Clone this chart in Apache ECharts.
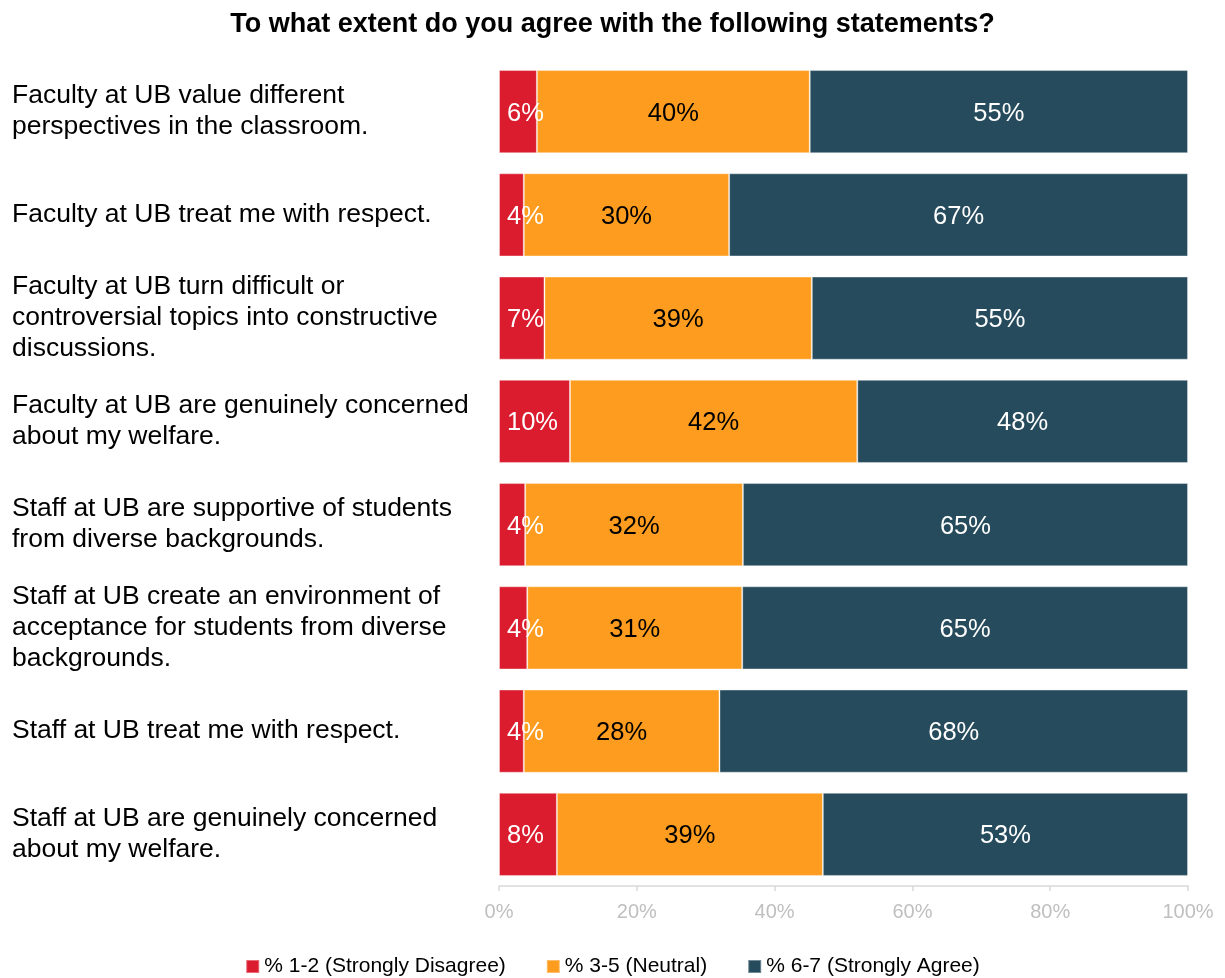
<!DOCTYPE html>
<html>
<head>
<meta charset="utf-8">
<script src="https://cdn.jsdelivr.net/npm/echarts@6/dist/echarts.min.js"></script>
<style>
  html, body { margin: 0; padding: 0; background: #fff; }
  #chart { width: 1225px; height: 978px; }
</style>
</head>
<body>
<div id="chart"></div>
<script>
// Survey statements (top to bottom)
const statements = [
  'Faculty at UB value different\nperspectives in the classroom.',
  'Faculty at UB treat me with respect.',
  'Faculty at UB turn difficult or\ncontroversial topics into constructive\ndiscussions.',
  'Faculty at UB are genuinely concerned\nabout my welfare.',
  'Staff at UB are supportive of students\nfrom diverse backgrounds.',
  'Staff at UB create an environment of\nacceptance for students from diverse\nbackgrounds.',
  'Staff at UB treat me with respect.',
  'Staff at UB are genuinely concerned\nabout my welfare.'
];

// Share of responses (%) per answer group
const disagree = [5.5, 3.6, 6.6, 10.3, 3.8, 4.1, 3.6, 8.4];
const neutral  = [39.6, 29.8, 38.8, 41.7, 31.6, 31.2, 28.4, 38.6];
const agree    = [54.9, 66.6, 54.6, 48.0, 64.6, 64.7, 68.0, 53.0];

const seriesNames = ['% 1-2 (Strongly Disagree)', '% 3-5 (Neutral)', '% 6-7 (Strongly Agree)'];
const axisTicks = [0, 20, 40, 60, 80, 100];

const FONT = "'Liberation Sans', Arial, sans-serif";
const colors = ['#DA1C2E', '#FD9C1E', '#264B5C'];
const labelColors = ['#ffffff', '#000000', '#ffffff'];

const chart = echarts.init(document.getElementById('chart'));

function barSeries(name, data, idx) {
  // the narrow first segment keeps its label pinned near the left edge
  const first = idx === 0;
  return {
    name: name,
    type: 'bar',
    stack: 'total',
    data: data,
    barCategoryGap: '19.5%',
    itemStyle: {
      color: colors[idx],
      borderColor: 'rgba(255,255,255,0.35)',
      borderWidth: 1
    },
    label: {
      show: true,
      position: first ? 'insideLeft' : 'inside',
      distance: first ? 8 : 5,
      offset: [0, 2],
      color: labelColors[idx],
      fontFamily: FONT,
      fontSize: 25.5,
      formatter: p => Math.round(p.value) + '%'
    },
    emphasis: { disabled: true }
  };
}

chart.setOption({
  animation: false,
  backgroundColor: '#ffffff',
  color: colors,
  title: {
    text: 'To what extent do you agree with the following statements?',
    left: 'center',
    top: 6,
    textStyle: { fontFamily: FONT, fontSize: 27, fontWeight: 'bold', color: '#000' }
  },
  legend: {
    top: 956,
    left: 'center',
    padding: 0,
    icon: 'rect',
    itemWidth: 13,
    itemHeight: 13,
    itemGap: 40,
    textStyle: { fontFamily: FONT, fontSize: 21, color: '#000' },
    data: seriesNames
  },
  grid: { left: 499, right: 37, top: 60, bottom: 92, containLabel: false },
  xAxis: {
    type: 'value',
    min: axisTicks[0],
    max: axisTicks[axisTicks.length - 1],
    interval: axisTicks[1] - axisTicks[0],
    axisLine: { show: true, lineStyle: { color: '#d9d9d9', width: 1.5 } },
    axisTick: { show: true, length: 5, lineStyle: { color: '#d9d9d9', width: 1.5 } },
    splitLine: { show: false },
    axisLabel: {
      formatter: '{value}%',
      color: '#bfbfbf',
      fontFamily: FONT,
      fontSize: 20,
      margin: 16
    }
  },
  yAxis: {
    type: 'category',
    inverse: true,
    data: statements,
    axisLine: { show: false },
    axisTick: { show: false },
    axisLabel: {
      align: 'left',
      margin: 487,
      padding: [6, 0, 0, 0],
      color: '#000',
      fontFamily: FONT,
      fontSize: 26.5,
      lineHeight: 31
    }
  },
  series: [
    barSeries(seriesNames[0], disagree, 0),
    barSeries(seriesNames[1], neutral, 1),
    barSeries(seriesNames[2], agree, 2)
  ]
});
</script>
</body>
</html>
